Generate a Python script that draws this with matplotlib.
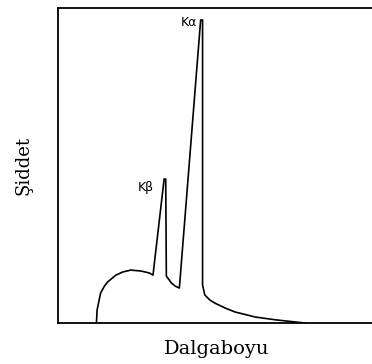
import matplotlib
matplotlib.use("Agg")
import matplotlib.pyplot as plt

# Spectrum trace (arbitrary wavelength units 0..10, intensity 0..100)
wavelength = [1.21, 1.23, 1.34, 1.46, 1.56, 1.82, 2.04, 2.29, 2.61, 2.87, 2.99,
              3.34, 3.39, 3.41, 3.57, 3.69, 3.82,
              4.49, 4.55, 4.55, 4.62, 4.78, 4.94, 5.25, 5.57, 6.21, 6.85, 7.77]
intensity = [0.0, 4.1, 9.5, 11.7, 13.0, 15.2, 16.2, 16.8, 16.5, 15.9, 15.2,
             45.7, 45.7, 14.9, 12.7, 11.7, 11.1,
             96.2, 96.2, 12.1, 8.9, 7.3, 6.3, 4.8, 3.5, 1.9, 1.0, 0.0]

peak_labels = ["K\u03b1", "K\u03b2"]
peak_label_pos = [(4.12, 95.5), (2.75, 43.0)]

fig = plt.figure(figsize=(3.72, 3.64), dpi=100)
ax = fig.add_axes([58 / 372, 41 / 364, 1 - 58 / 372 + 0.01, 315 / 364])
ax.plot(wavelength, intensity, color="black", lw=1.2)
ax.set_xlim(0, 10)
ax.set_ylim(0, 100)
ax.set_xticks([])
ax.set_yticks([])
for s in ax.spines.values():
    s.set_linewidth(1.3)
ax.spines["right"].set_visible(False)

for lab, (x, y) in zip(peak_labels, peak_label_pos):
    ax.text(x, y, lab, fontsize=9, family="DejaVu Sans", ha="center", va="center")

ax.set_xlabel("Dalgaboyu", family="DejaVu Serif", fontsize=14, labelpad=12)
ax.set_ylabel("\u015eiddet", family="DejaVu Serif", fontsize=13, labelpad=18)

fig.savefig("out.png", dpi=100)
